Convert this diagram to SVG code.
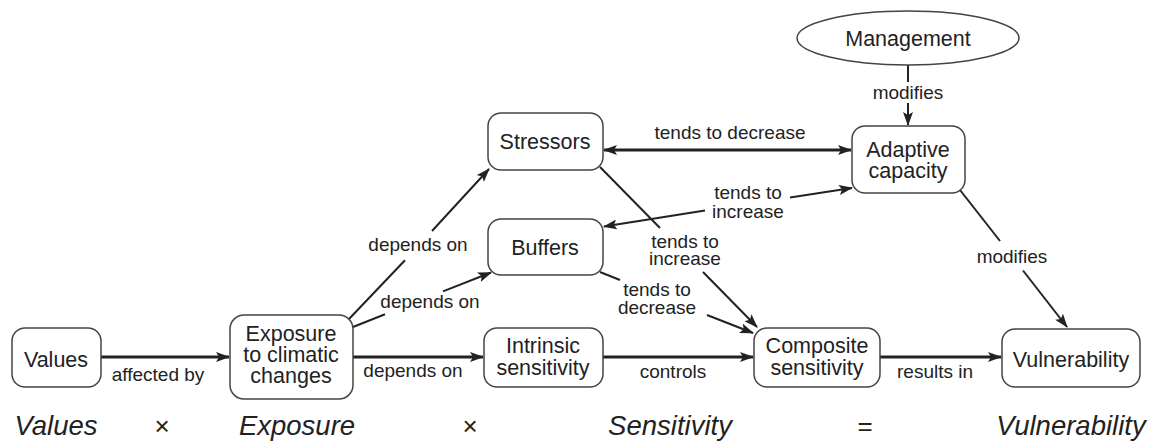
<svg xmlns="http://www.w3.org/2000/svg" width="1154" height="442" viewBox="0 0 1154 442">
<style>
.box{fill:#fff;stroke:#444;stroke-width:1.5}
.nt{font-family:"Liberation Sans",Arial,sans-serif;font-size:21.5px;fill:#222;text-anchor:middle}
.lt{font-family:"Liberation Sans",Arial,sans-serif;font-size:19px;fill:#222;text-anchor:middle}
.bt{font-family:"Liberation Sans",Arial,sans-serif;font-size:27.5px;font-style:italic;fill:#222;text-anchor:middle}
.op{font-family:"Liberation Sans",Arial,sans-serif;font-size:26px;fill:#222;text-anchor:middle}
.c{stroke:#222;stroke-width:2;fill:none}
.th{stroke-width:3}
.end{marker-end:url(#ah)}
.start{marker-start:url(#ah)}
</style>
<defs>
<marker id="ah" viewBox="0 0 14 10" refX="13" refY="5" markerWidth="14" markerHeight="10" markerUnits="userSpaceOnUse" orient="auto-start-reverse">
<path d="M0,0 L14,5 L0,10 L3,5 z" fill="#222"/>
</marker>
</defs>
<rect width="1154" height="442" fill="#fff"/>

<g id="connectors">
<line class="c th end" x1="101" y1="357" x2="229" y2="357"/>
<text class="lt" x="158" y="381">affected by</text>
<line class="c th end" x1="353" y1="357" x2="483" y2="357"/>
<text class="lt" x="413" y="377">depends on</text>
<line class="c th end" x1="603" y1="357" x2="753" y2="357"/>
<text class="lt" x="673" y="378">controls</text>
<line class="c th end" x1="880" y1="357" x2="1001" y2="357"/>
<text class="lt" x="935" y="378">results in</text>

<line class="c th start end" x1="604" y1="150" x2="851" y2="150"/>
<text class="lt" x="730" y="139">tends to decrease</text>

<line class="c start" x1="604" y1="226.5" x2="705" y2="210.5"/>
<line class="c end" x1="790" y1="197.6" x2="852" y2="188"/>
<text class="lt" x="748" y="199">tends to<tspan x="748" dy="19">increase</tspan></text>

<line class="c" x1="600" y1="167" x2="660" y2="228"/>
<line class="c end" x1="703" y1="272" x2="757" y2="327"/>
<text class="lt" x="685" y="248">tends to<tspan x="685" dy="17">increase</tspan></text>

<line class="c" x1="600" y1="272" x2="620" y2="280"/>
<line class="c end" x1="707" y1="315" x2="753" y2="333"/>
<text class="lt" x="657" y="296">tends to<tspan x="657" dy="18">decrease</tspan></text>

<line class="c" x1="349" y1="319" x2="405" y2="260.3"/>
<line class="c end" x1="432" y1="231" x2="489" y2="169"/>
<text class="lt" x="418" y="251">depends on</text>

<line class="c" x1="353" y1="327" x2="385" y2="314.3"/>
<line class="c end" x1="443" y1="291.4" x2="491" y2="272.5"/>
<text class="lt" x="430" y="308">depends on</text>

<line class="c" x1="908" y1="65" x2="908" y2="82"/>
<line class="c end" x1="908" y1="103" x2="908" y2="125"/>
<text class="lt" x="908" y="99">modifies</text>

<line class="c" x1="960" y1="190" x2="1000" y2="241"/>
<line class="c end" x1="1023" y1="270.5" x2="1067" y2="327"/>
<text class="lt" x="1012" y="263">modifies</text>
</g>

<g id="values">
<rect class="box" x="12" y="328" width="89" height="59" rx="13"/>
<text class="nt" x="56" y="367">Values</text>
</g>
<g id="exposure">
<rect class="box" x="230" y="315" width="123" height="84" rx="14"/>
<text class="nt" x="291" y="341">Exposure<tspan x="291" dy="21">to climatic</tspan><tspan x="291" dy="21">changes</tspan></text>
</g>
<g id="stressors">
<rect class="box" x="488" y="113" width="115" height="57" rx="13"/>
<text class="nt" x="545" y="149">Stressors</text>
</g>
<g id="buffers">
<rect class="box" x="488" y="219" width="115" height="56" rx="13"/>
<text class="nt" x="545" y="255">Buffers</text>
</g>
<g id="intrinsic">
<rect class="box" x="484" y="328" width="119" height="59" rx="13"/>
<text class="nt" x="543" y="353">Intrinsic<tspan x="543" dy="22">sensitivity</tspan></text>
</g>
<g id="composite">
<rect class="box" x="754" y="328" width="126" height="59" rx="13"/>
<text class="nt" x="817" y="353">Composite<tspan x="817" dy="22">sensitivity</tspan></text>
</g>
<g id="vulnerability">
<rect class="box" x="1002" y="329" width="138" height="58" rx="13"/>
<text class="nt" x="1071" y="367">Vulnerability</text>
</g>
<g id="adaptive">
<rect class="box" x="852" y="126" width="113" height="67" rx="13"/>
<text class="nt" x="908" y="157">Adaptive<tspan x="908" dy="21">capacity</tspan></text>
</g>
<g id="management">
<ellipse class="box" cx="908" cy="38" rx="111" ry="27"/>
<text class="nt" x="908" y="46">Management</text>
</g>

<g id="equation">
<text class="bt" x="56" y="435">Values</text>
<text class="op" x="162" y="435">×</text>
<text class="bt" x="297" y="435">Exposure</text>
<text class="op" x="470" y="435">×</text>
<text class="bt" x="670" y="435">Sensitivity</text>
<text class="op" x="865" y="435">=</text>
<text class="bt" x="1071" y="435">Vulnerability</text>
</g>
</svg>
